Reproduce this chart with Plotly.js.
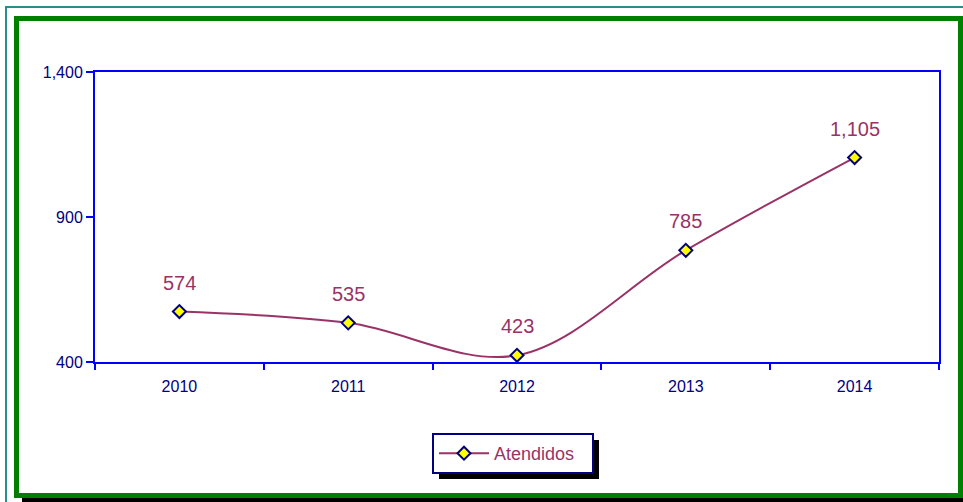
<!DOCTYPE html>
<html>
<head>
<meta charset="utf-8">
<script src="https://cdn.plot.ly/plotly-3.0.1.min.js"></script>
<style>
  html, body { margin: 0; padding: 0; background: #ffffff; }
  #wrap { position: relative; width: 963px; height: 502px; overflow: hidden; background: #ffffff; }
  #chart { position: absolute; left: 0; top: 0; width: 963px; height: 502px; }
  .deco { position: absolute; pointer-events: none; box-sizing: border-box; }
</style>
</head>
<body>
<div id="wrap">
  <div id="chart"></div>
  <div class="deco" id="teal" style="left:5px; top:6px; width:980px; height:520px; border:2px solid #2a8c8c;"></div>
  <div class="deco" id="shadow" style="left:22px; top:497px; width:960px; height:8px; background:#000000;"></div>
  <div class="deco" id="green" style="left:14px; top:16px; width:949px; height:482px; border:5px solid #008000;"></div>
</div>
<script>
const years = ['2010', '2011', '2012', '2013', '2014'];
const atendidos = [574, 535, 423, 785, 1105];
const seriesName = 'Atendidos';
const yTicks = [400, 900, 1400];

const plum = '#993366';
const navy = '#000080';
const blue = '#0000ff';
const fontFam = 'Liberation Sans, Arial, sans-serif';

const trace = {
  x: years,
  y: atendidos,
  type: 'scatter',
  mode: 'lines+markers',
  name: seriesName,
  line: { color: plum, width: 2, shape: 'spline', smoothing: 1 },
  marker: { symbol: 'diamond', size: 10, color: '#ffff00', line: { color: navy, width: 2 } },
  cliponaxis: false
};

// category index used as annotation x (numeric-looking category names would be read as indices)
const annotations = years.map((yr, i) => ({
  x: i,
  y: atendidos[i],
  xref: 'x',
  yref: 'y',
  text: atendidos[i].toLocaleString('en-US'),
  showarrow: false,
  yshift: 29,
  font: { family: fontFam, size: 20, color: plum }
}));

// paper coordinates of the plot area: x 95..939, y 72..362
const px = v => (v - 95) / 844;
const py = v => (362 - v) / 290;

const layout = {
  width: 963,
  height: 502,
  margin: { l: 95, r: 24, t: 72, b: 140, pad: 0 },
  paper_bgcolor: '#ffffff',
  plot_bgcolor: '#ffffff',
  font: { family: fontFam, color: navy, size: 16 },
  showlegend: true,
  legend: {
    orientation: 'h',
    x: px(432), y: py(433), xanchor: 'left', yanchor: 'top',
    bgcolor: '#ffffff', bordercolor: navy, borderwidth: 2,
    font: { size: 18, color: plum },
    itemwidth: 50,
    entrywidth: 93
  },
  xaxis: {
    type: 'category',
    range: [-0.5, 4.5],
    showline: true, linecolor: blue, linewidth: 2, mirror: true,
    ticks: 'outside', tickson: 'boundaries', ticklen: 6, tickcolor: blue, tickwidth: 2,
    ticklabelstandoff: 9,
    showgrid: false, zeroline: false,
    tickfont: { size: 16, color: navy }
  },
  yaxis: {
    range: [400, 1400],
    tickvals: yTicks,
    tickformat: ',',
    showline: true, linecolor: blue, linewidth: 2, mirror: true,
    ticks: 'outside', ticklen: 7, tickcolor: blue, tickwidth: 2,
    showgrid: false, zeroline: false,
    tickfont: { size: 16, color: navy }
  },
  annotations: annotations,
  shapes: [{
    type: 'rect', xref: 'paper', yref: 'paper', layer: 'above',
    x0: px(439), x1: px(599), y0: py(479), y1: py(440),
    fillcolor: '#000000', line: { width: 0 }
  }]
};

Plotly.newPlot('chart', [trace], layout, { displayModeBar: false, staticPlot: true });
</script>
</body>
</html>
